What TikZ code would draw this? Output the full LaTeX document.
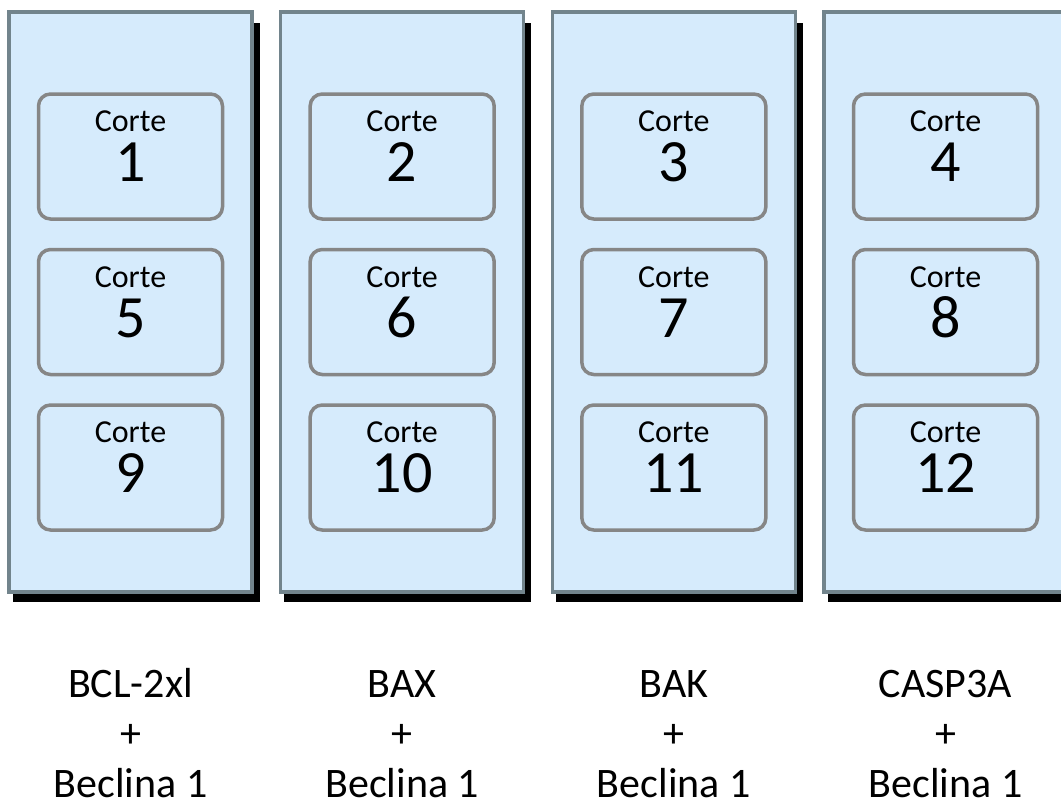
\documentclass[tikz,border=0pt]{standalone}
\usepackage{fontspec}
\setmainfont{Carlito}
\definecolor{slidefill}{RGB}{214,235,252}
\definecolor{slideline}{RGB}{114,132,140}
\definecolor{cutline}{RGB}{134,134,134}
\tikzset{
    cutbox/.style={draw=cutline, fill=slidefill, line width=3.5, rounded corners=12,
        minimum width=184, minimum height=125, inner sep=0, outer sep=0, anchor=north},
    cutword/.style={font=\fontsize{32}{36}\selectfont, inner sep=0, anchor=base},
    cutnum/.style={font=\fontsize{60}{70}\selectfont, inner sep=0, anchor=base},
    lbl/.style={font=\fontsize{42}{50}\selectfont, align=center, inner sep=0, anchor=base}
}
\begin{document}
\begin{tikzpicture}[x=1pt,y=-1pt]
\useasboundingbox (0,0) rectangle (1061,807);
%slides
\foreach \i in {0,1,2,3}{
    \pgfmathsetmacro{\xl}{9+271.67*\i}
    \fill[black] (\xl+3.7,22.7) rectangle (\xl+250.7,601.7);
    \draw[slideline, fill=slidefill, line width=3.5] (\xl,12) rectangle (\xl+243,592);
}
%cortes
\foreach \i in {0,1,2,3}{
    \foreach \j in {0,1,2}{
        \pgfmathsetmacro{\xc}{130.5+271.67*\i}
        \pgfmathsetmacro{\yt}{94+155.5*\j}
        \pgfmathtruncatemacro{\n}{1+\i+4*\j}
        \node[cutbox] (b\n) at (\xc,\yt) {};
        \node[cutword] (w\n) at (\xc,\yt+37.7) {Corte};
        \node[cutnum] (n\n) at (\xc,\yt+87.7) {\n};
    }
}
%labels (base = last line)
\foreach \i/\txt in {0/BCL-2xl, 1/BAX, 2/BAK, 3/CASP3A}{
    \node[lbl] (l\i) at (130.5+271.67*\i,797) {\txt\\+\\Beclina 1};
}
\end{tikzpicture}
\end{document}
